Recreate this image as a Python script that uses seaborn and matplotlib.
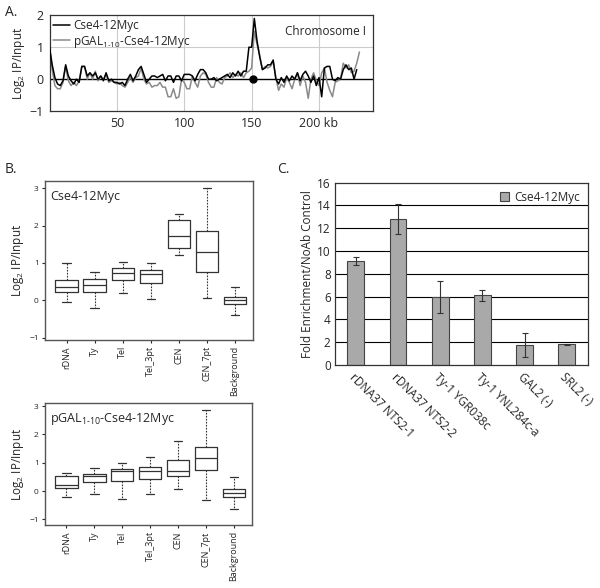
import numpy as np
import seaborn as sns
import matplotlib.pyplot as plt

# ---- panel A: log2 IP/Input along chromosome I (every 2 kb) ----
kb = np.arange(0, 232, 2)
cse4_trace = [1.0, 0.45, 0.05, -0.15, -0.2, -0.05, 0.45, 0.1, -0.05, -0.15,
              0.0, -0.1, 0.4, 0.4, 0.1, 0.2, 0.1, 0.2, 0.0, 0.1,
              -0.05, 0.2, -0.05, 0.0, -0.1, -0.1, -0.15, -0.1, -0.2, 0.0,
              0.15, -0.05, 0.1, 0.3, 0.4, 0.15, -0.1, 0.0, 0.1, 0.1,
              0.05, 0.1, 0.15, -0.05, 0.1, 0.1, -0.1, 0.1, 0.1, -0.05,
              0.15, 0.15, 0.15, 0.1, -0.05, 0.15, 0.3, 0.3, 0.2, 0.0,
              0.0, 0.05, -0.05, 0.0, 0.05, 0.1, 0.15, 0.05, 0.2, 0.1,
              0.25, 0.1, 0.25, 0.25, 1.0, 1.0, 1.9, 1.2, 0.7, 0.3,
              0.35, 0.45, 0.45, 0.6, 0.0, -0.15, 0.05, -0.1, 0.1, -0.05,
              0.1, 0.0, 0.2, -0.05, 0.15, 0.25, 0.1, -0.1, 0.1, -0.2,
              0.05, -0.55, 0.35, 0.4, 0.4, 0.0, -0.05, 0.05, 0.0, 0.3,
              0.45, 0.3, 0.35, 0.0, 0.3, np.nan]
pgal_trace = [1.0, 0.3, -0.2, -0.3, -0.3, -0.1, 0.4, -0.05, -0.2, -0.1,
              -0.2, -0.05, 0.4, 0.4, 0.0, 0.2, 0.0, 0.25, -0.05, 0.1,
              0.0, 0.15, -0.1, -0.05, -0.1, -0.15, -0.1, -0.2, -0.25, -0.1,
              0.05, -0.1, 0.05, 0.1, 0.35, 0.0, -0.15, -0.1, -0.25, -0.2,
              -0.2, -0.1, -0.25, -0.25, -0.55, -0.55, -0.3, -0.6, -0.55, 0.0,
              -0.1, -0.3, -0.3, 0.1, -0.1, -0.25, 0.1, 0.2, 0.15, -0.1,
              -0.25, -0.25, 0.05, -0.1, -0.15, 0.05, 0.1, 0.2, 0.05, 0.15,
              0.1, 0.2, 0.05, 0.2, 0.25, 0.35, 1.5, 1.1, 0.75, 0.3,
              0.4, 0.35, 0.4, 0.55, 0.05, -0.35, -0.15, -0.25, 0.05, -0.1,
              -0.3, 0.0, 0.2, -0.2, 0.1, -0.1, -0.6, 0.0, 0.2, -0.05,
              -0.2, 0.2, 0.35, -0.1, -0.35, -0.55, -0.1, -0.05, 0.0, 0.5,
              0.35, 0.45, 0.2, 0.25, 0.5, 0.85]
cen_kb = 151

# ---- panel B: box summaries ----
regions = ["rDNA", "Ty", "Tel", "Tel_3pt", "CEN", "CEN_7pt", "Background"]
cse4_lo = [-0.04, -0.21, 0.19, 0.03, 1.22, 0.06, -0.38]
cse4_q1 = [0.22, 0.23, 0.54, 0.45, 1.40, 0.77, -0.10]
cse4_med = [0.36, 0.41, 0.73, 0.70, 1.71, 1.29, 0.00]
cse4_q3 = [0.55, 0.58, 0.86, 0.82, 2.15, 1.85, 0.09]
cse4_hi = [1.00, 0.77, 1.03, 1.00, 2.31, 3.00, 0.36]

pgal_lo = [-0.21, -0.09, -0.29, -0.09, 0.06, -0.31, -0.63]
pgal_q1 = [0.12, 0.31, 0.35, 0.42, 0.54, 0.74, -0.22]
pgal_med = [0.20, 0.52, 0.70, 0.70, 0.70, 1.18, -0.07]
pgal_q3 = [0.54, 0.62, 0.79, 0.84, 1.11, 1.56, 0.08]
pgal_hi = [0.64, 0.83, 0.99, 1.19, 1.76, 2.85, 0.49]

# ---- panel C: ChIP-qPCR ----
loci = ["rDNA37 NTS2-1", "rDNA37 NTS2-2", "Ty-1 YGR038c",
        "Ty-1 YNL284c-a", "GAL2 (-)", "SRL2 (-)"]
fold = [9.1, 12.8, 6.0, 6.1, 1.75, 1.8]
fold_err = [0.35, 1.3, 1.4, 0.45, 1.05, 0.08]

sns.set_style("white")
plt.rcParams['font.family'] = ['Open Sans', 'DejaVu Sans']
plt.rcParams['mathtext.fontset'] = 'custom'
plt.rcParams['mathtext.rm'] = 'Open Sans'

fig = plt.figure(figsize=(6, 5.88), dpi=100)
pgal_name = r"pGAL$_{\text{1-10}}$-Cse4-12Myc"
ylab = r"Log$_{\mathregular{2}}$ IP/Input"

# ---------------- A ----------------
axA = fig.add_axes([0.0825, 0.811, 0.539, 0.163])
for x in [50, 100, 150, 200]:
    axA.axvline(x, color='#cccccc', lw=0.8, zorder=0)
axA.axhline(1, color='#cccccc', lw=0.8, zorder=0)
axA.axhline(0, color='black', lw=1.0, zorder=1)
sns.lineplot(x=kb, y=cse4_trace, ax=axA, color='black', lw=1.1,
             label='Cse4-12Myc', zorder=3)
sns.lineplot(x=kb, y=pgal_trace, ax=axA, color='#8a8a8a', lw=1.1,
             label=pgal_name, zorder=2)
axA.plot([cen_kb], [0], 'o', color='black', ms=5, zorder=4)
axA.set_xlim(0, 240)
axA.set_ylim(-1, 2)
axA.set_xticks([50, 100, 150, 200])
axA.set_xticklabels(['50', '100', '150', '200 kb'])
axA.set_yticks([-1, 0, 1, 2])
axA.tick_params(labelsize=9, length=0, pad=4)
axA.set_ylabel(ylab, fontsize=8.5, labelpad=2)
for s in axA.spines.values():
    s.set_color('#333333')
    s.set_linewidth(0.9)
axA.legend(loc='upper left', frameon=False, fontsize=8.5, handlelength=1.4,
           handletextpad=0.3, labelspacing=0.15, borderaxespad=0.1,
           borderpad=0.2)
axA.text(0.98, 0.83, 'Chromosome I', transform=axA.transAxes, ha='right',
         va='center', fontsize=8.5)


def box_panel(rect, lo, q1, med, q3, hi, title, ylim, title_y):
    ax = fig.add_axes(rect)
    stats = [dict(whislo=a, q1=b, med=c, q3=d, whishi=e, fliers=[])
             for a, b, c, d, e in zip(lo, q1, med, q3, hi)]
    ax.bxp(stats, positions=range(len(stats)), widths=0.8, showfliers=False,
           capwidths=0.3,
           boxprops=dict(color='#333333', lw=0.9),
           whiskerprops=dict(color='#333333', lw=0.8, ls=(0, (1.5, 1.2))),
           capprops=dict(color='#333333', lw=0.9),
           medianprops=dict(color='#333333', lw=0.9))
    ax.set_xlim(-0.77, 6.65)
    ax.set_ylim(*ylim)
    ax.set_yticks([-1, 0, 1, 2, 3])
    ax.set_xticks(range(len(regions)))
    ax.set_xticklabels(regions, rotation=90, fontsize=6.5)
    ax.tick_params(axis='y', labelsize=6, length=2.5, pad=2, left=True)
    ax.tick_params(axis='x', length=2.5, pad=2, bottom=True)
    ax.set_ylabel(ylab, fontsize=8.5, labelpad=2)
    for s in ax.spines.values():
        s.set_color('#555555')
        s.set_linewidth(1.0)
    ax.text(0.025, title_y, title, transform=ax.transAxes, ha='left',
            va='center', fontsize=9)
    return ax


box_panel([0.075, 0.4218, 0.347, 0.271], cse4_lo, cse4_q1, cse4_med,
          cse4_q3, cse4_hi, 'Cse4-12Myc', (-1.06, 3.2), 0.9)
box_panel([0.075, 0.1071, 0.345, 0.207], pgal_lo, pgal_q1, pgal_med,
          pgal_q3, pgal_hi, pgal_name, (-1.2, 3.1), 0.87)

# ---------------- C ----------------
axC = fig.add_axes([0.558, 0.3793, 0.4217, 0.31])
for y in range(2, 16, 2):
    axC.axhline(y, color='black', lw=0.8, zorder=0)
sns.barplot(x=loci, y=fold, ax=axC, color='#a9a9a9', saturation=1,
            width=0.4, edgecolor='#444444', linewidth=0.8, errorbar=None,
            label='Cse4-12Myc', zorder=2)
axC.errorbar(range(len(loci)), fold, yerr=fold_err, fmt='none',
             ecolor='#333333', elinewidth=0.8, capsize=2.2, capthick=0.8,
             zorder=3)
axC.set_xlim(-0.5, 5.5)
axC.set_ylim(0, 16)
axC.set_yticks(range(0, 17, 2))
axC.set_xticks(range(len(loci)))
axC.set_xticklabels(loci, rotation=-45, ha='left', rotation_mode='anchor',
                    fontsize=8.5)
axC.tick_params(axis='y', labelsize=8.5, length=0, pad=3)
axC.tick_params(axis='x', length=0, pad=4)
axC.set_ylabel('Fold Enrichment/NoAb Control', fontsize=8.5, labelpad=2)
axC.set_xlabel('')
for s in axC.spines.values():
    s.set_color('#333333')
    s.set_linewidth(0.9)
axC.legend(loc='upper right', frameon=False, fontsize=8.5, handlelength=0.8,
           handleheight=0.8, handletextpad=0.4, borderaxespad=0.3)

fig.text(0.008, 0.978, 'A.', fontsize=10, va='center')
fig.text(0.008, 0.712, 'B.', fontsize=10, va='center')
fig.text(0.462, 0.712, 'C.', fontsize=10, va='center')

fig.savefig('out.png', dpi=100)
